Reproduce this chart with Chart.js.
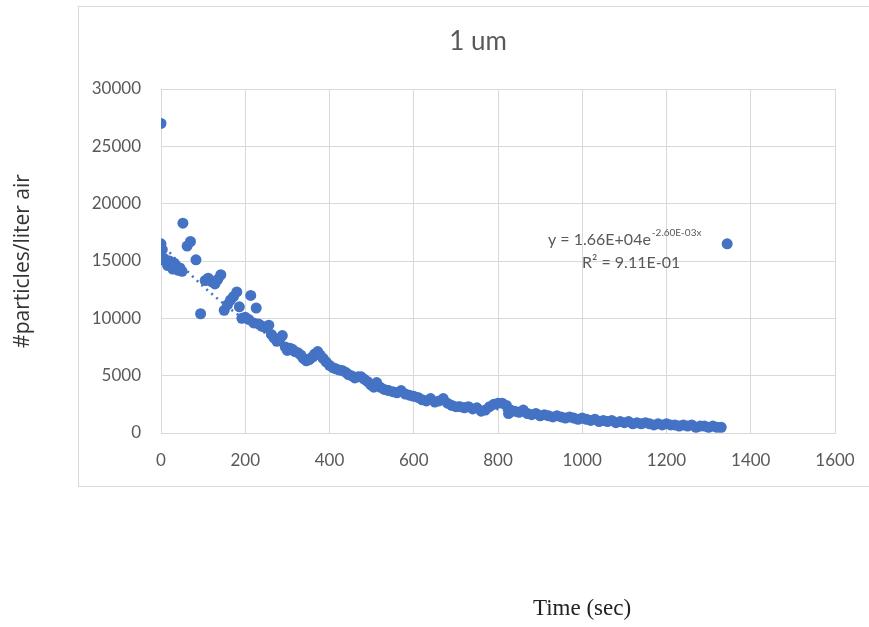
<!DOCTYPE html>
<html lang="en">
<head>
    <meta charset="UTF-8">
    <title>1 um</title>
    <style>
        body {
            margin: 0;
            background: white;
        }

        #wrap {
            position: relative;
            width: 869px;
            height: 627px;
        }
    </style>
</head>
<body>
    <div id="wrap"><canvas id="chart" width="869" height="627"></canvas></div>

<script src="https://cdn.jsdelivr.net/npm/chart.js@4"></script>
<script type="text/javascript">
    // time of each sample (sec)
    var timeSec = [
        0, 0, 3, 8, 12, 16, 20, 24, 28, 32, 36, 40, 45, 50, 52, 62, 70, 83, 94,
        105, 112, 120, 128, 135, 142, 150, 158, 165, 172, 180, 186, 192, 200, 208, 213,
        220, 226, 232, 240, 248, 256, 262, 268, 275, 282, 288, 295, 300, 306, 312,
        318, 325, 332, 338, 345, 352, 358, 365, 372, 378, 385, 392, 400, 408, 415,
        422, 430, 438, 445, 452, 460, 468, 475, 482, 490, 498, 505, 512, 520, 530,
        540, 550, 560, 570, 580, 590, 600, 610, 620, 630, 640, 650, 660, 670, 680,
        690, 700, 710, 720, 730, 740, 750, 760, 770, 780, 790, 800, 810, 820, 825,
        830, 840, 850, 860, 870, 880, 890, 900, 910, 920, 930, 940, 950, 960, 970,
        980, 990, 1000, 1010, 1020, 1030, 1040, 1050, 1060, 1070, 1080, 1090, 1100, 1110, 1120,
        1130, 1140, 1150, 1160, 1170, 1180, 1190, 1200, 1210, 1220, 1230, 1240, 1250, 1260, 1270,
        1280, 1290, 1300, 1310, 1320, 1330, 1344
    ];
    // #particles per liter of air
    var particles = [
        27000, 16500, 16000, 15200, 14900, 14600, 15000, 14700, 14300, 14800, 14500, 14200, 14400, 14100, 18300, 16300, 16700, 15100, 10400,
        13300, 13500, 13200, 13000, 13400, 13800, 10700, 11200, 11600, 11900, 12300, 11000, 10000, 10100, 9900, 12000,
        9600, 10900, 9500, 9300, 9200, 9400, 8600, 8300, 8000, 8200, 8500, 7500, 7200, 7400, 7300,
        7100, 7000, 6800, 6500, 6300, 6400, 6600, 6900, 7100, 6800, 6500, 6200, 5900, 5700, 5600,
        5500, 5450, 5300, 5100, 5000, 4800, 4900, 4900, 4700, 4500, 4200, 4000, 4400, 4000, 3800,
        3700, 3600, 3500, 3700, 3400, 3300, 3200, 3100, 2900, 2800, 3000, 2700, 2800, 3000, 2600,
        2400, 2300, 2300, 2200, 2300, 2100, 2200, 1900, 2000, 2300, 2500, 2600, 2600, 2400, 1700,
        2000, 1900, 1800, 2000, 1700, 1600, 1700, 1500, 1600, 1500, 1400, 1500, 1400, 1300, 1400,
        1300, 1200, 1300, 1200, 1100, 1200, 1000, 1100, 1000, 1100, 900, 1000, 900, 1000, 800,
        900, 800, 900, 800, 700, 800, 700, 800, 700, 700, 600, 700, 600, 700, 500,
        600, 600, 500, 600, 500, 500, 16500
    ];
    var xTicks = [0, 1600, 200];
    var yTicks = [0, 30000, 5000];
    // exponential trendline y = a * e^(b x), as printed on the chart
    var trendA = 16600;
    var trendB = -0.0026;

    var blue = '#4472C4';
    var gray = '#595959';
    var gridColor = '#d9d9d9';

    var points = timeSec.map(function(t, i) {
        return { x: t, y: particles[i] };
    });

    var decor = {
        id: 'decor',
        beforeDraw: function(chart) {
            var ctx = chart.ctx;
            ctx.save();
            ctx.fillStyle = 'white';
            ctx.fillRect(0, 0, chart.width, chart.height);
            ctx.strokeStyle = gridColor;
            ctx.lineWidth = 1;
            ctx.strokeRect(78.5, 6.5, 900, 480);
            ctx.restore();
        },
        afterDatasetsDraw: function(chart) {
            var ctx = chart.ctx;
            var xs = chart.scales.x;
            var ys = chart.scales.y;
            var area = chart.chartArea;
            var xStart = timeSec[0];
            var xEnd = timeSec[timeSec.length - 1];

            ctx.save();
            ctx.beginPath();
            ctx.rect(area.left, area.top, area.right - area.left, area.bottom - area.top);
            ctx.clip();
            ctx.strokeStyle = blue;
            ctx.lineWidth = 2.5;
            ctx.setLineDash([2, 4.5]);
            ctx.beginPath();
            var px0 = xs.getPixelForValue(xStart);
            var px1 = xs.getPixelForValue(xEnd);
            for (var px = px0; px <= px1; px += 1) {
                var v = xs.getValueForPixel(px);
                var py = ys.getPixelForValue(trendA * Math.exp(trendB * v));
                if (px === px0) ctx.moveTo(px, py); else ctx.lineTo(px, py);
            }
            ctx.stroke();
            ctx.restore();

            // equation labels
            ctx.save();
            ctx.fillStyle = gray;
            ctx.textBaseline = 'middle';
            ctx.textAlign = 'left';
            ctx.font = '16px Lato';
            var eq = 'y = 1.66E+04e';
            ctx.fillText(eq, 548, 240);
            var w = ctx.measureText(eq).width;
            ctx.font = '10px Lato';
            ctx.fillText('-2.60E-03x', 548 + w + 1, 233);
            ctx.font = '16px Lato';
            ctx.fillText('R\u00B2 = 9.11E-01', 582, 263);

            // chart title
            ctx.textAlign = 'center';
            ctx.font = '26px Lato';
            ctx.fillText('1 um', 478, 42);

            // x axis title
            ctx.fillStyle = '#222';
            ctx.font = '23px "Liberation Serif"';
            ctx.fillText('Time (sec)', 582, 609);
            ctx.restore();
        }
    };

    function plain(value) {
        return String(value);
    }

    var chart = new Chart(document.getElementById('chart').getContext('2d'), {
        type: 'scatter',
        data: {
            datasets: [{
                label: '1 um',
                data: points,
                backgroundColor: blue,
                borderWidth: 0,
                pointRadius: 5.5,
                pointHoverRadius: 5.5
            }]
        },
        options: {
            responsive: false,
            animation: false,
            layout: {
                padding: { left: 0, top: 89, right: 34, bottom: 134 }
            },
            plugins: {
                legend: { display: false },
                tooltip: { enabled: false },
                title: { display: false }
            },
            scales: {
                x: {
                    type: 'linear',
                    min: xTicks[0],
                    max: xTicks[1],
                    ticks: {
                        stepSize: xTicks[2],
                        color: gray,
                        padding: 17,
                        font: { family: 'Lato', size: 17 },
                        callback: plain
                    },
                    grid: { color: gridColor, drawTicks: false },
                    border: { color: gridColor },
                    afterFit: function(scale) {
                        scale.height = 60;
                        scale.paddingLeft = 0;
                        scale.paddingRight = 0;
                    }
                },
                y: {
                    type: 'linear',
                    min: yTicks[0],
                    max: yTicks[1],
                    ticks: {
                        stepSize: yTicks[2],
                        color: gray,
                        padding: 20,
                        font: { family: 'Lato', size: 17 },
                        callback: plain
                    },
                    grid: { color: gridColor, drawTicks: false },
                    border: { color: gridColor },
                    title: {
                        display: true,
                        text: '#particles/liter air',
                        color: '#333',
                        padding: { top: 10, bottom: 0 },
                        font: { family: 'Open Sans', size: 21 }
                    },
                    afterFit: function(scale) {
                        scale.width = 161;
                        scale.paddingTop = 0;
                        scale.paddingBottom = 0;
                    }
                }
            }
        },
        plugins: [decor]
    });
</script>
</body>
</html>
